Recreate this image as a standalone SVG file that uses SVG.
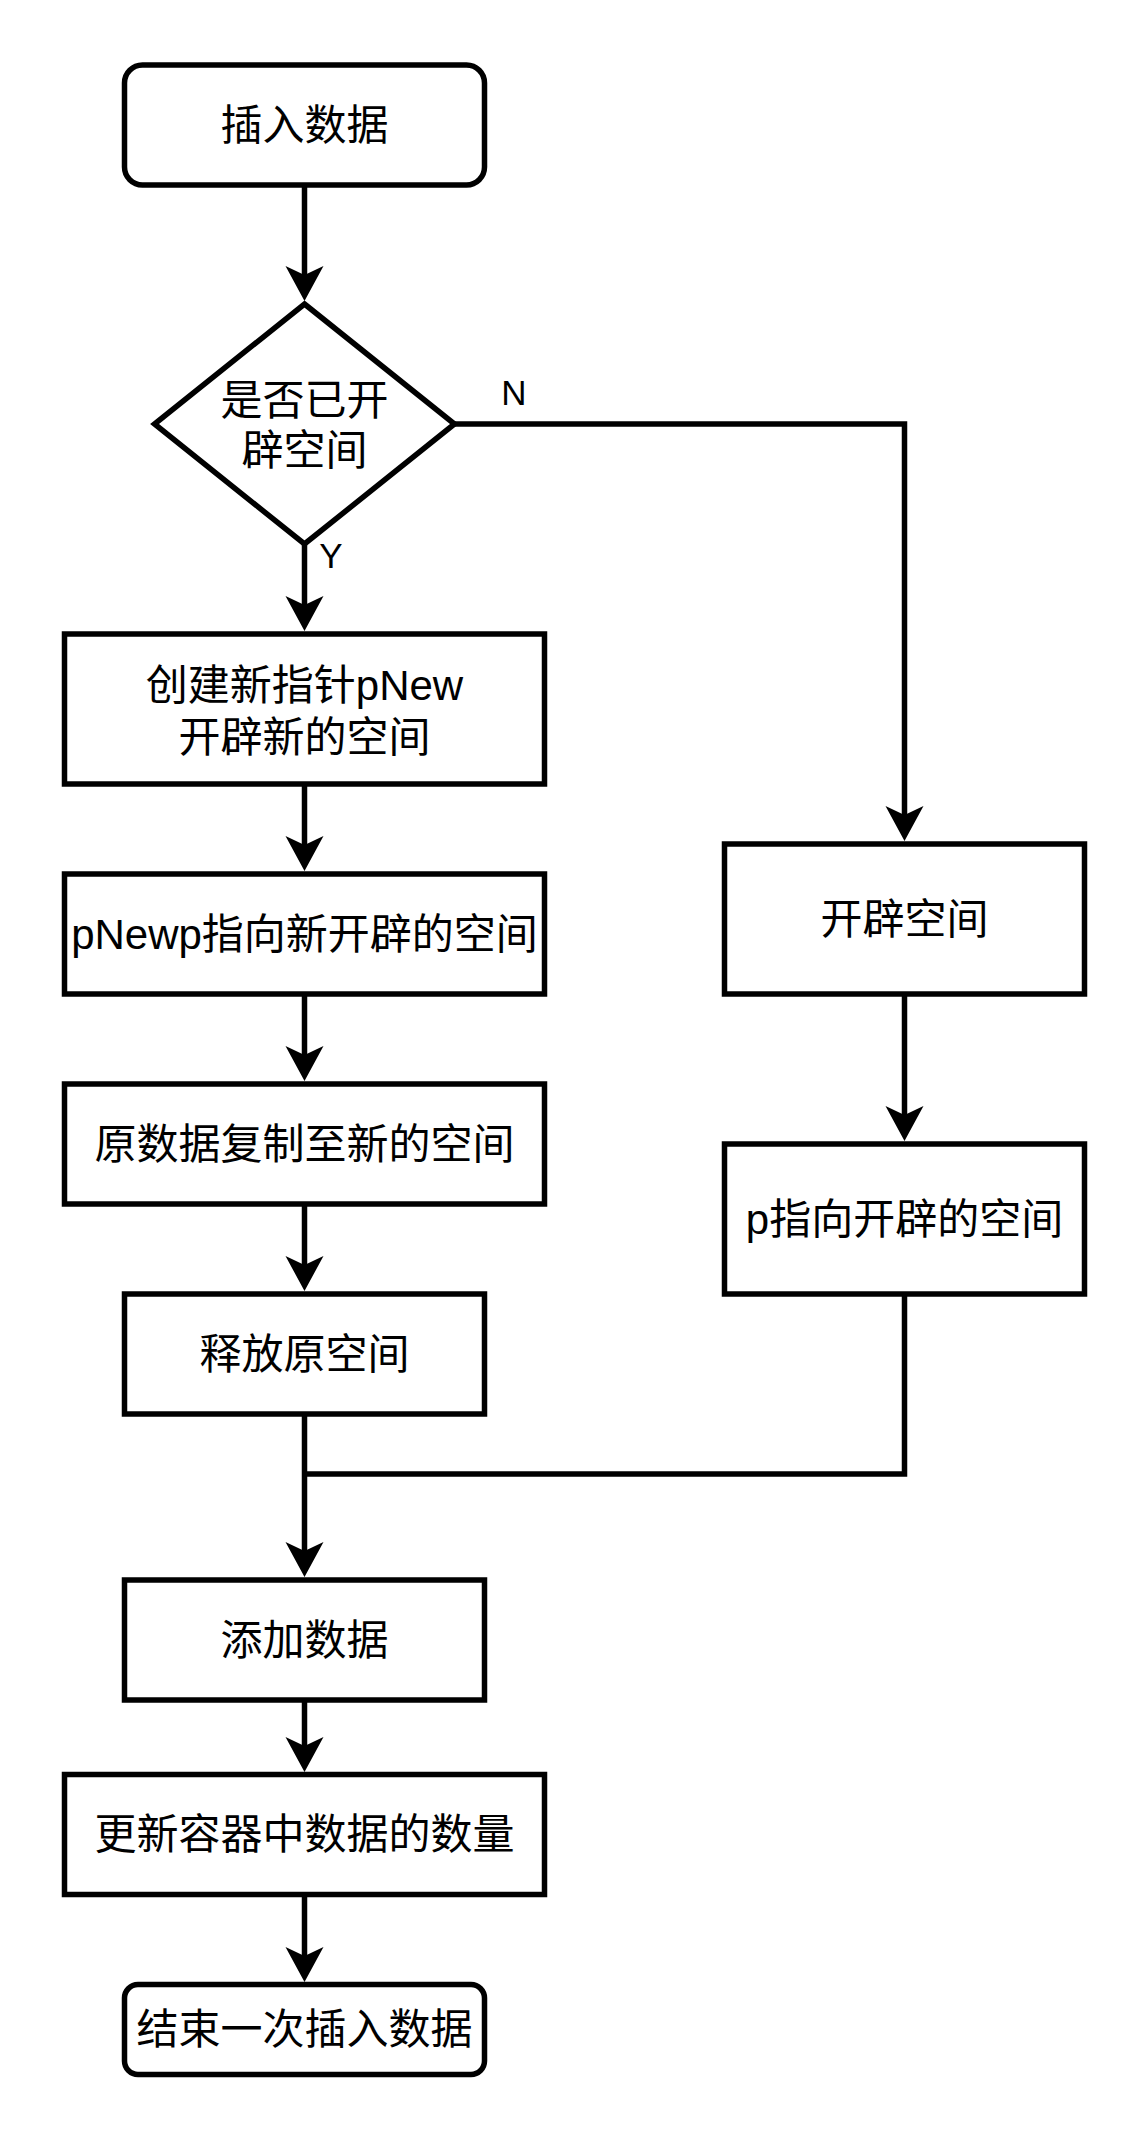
<svg xmlns="http://www.w3.org/2000/svg" width="1146" height="2136" viewBox="0 0 1146 2136">
<style>
.shape{fill:#ffffff;stroke:#000000;stroke-width:5.5;}
.edge{fill:none;stroke:#000000;stroke-width:5.5;}
.t{font-family:"Liberation Sans","Noto Sans CJK SC",sans-serif;font-size:42px;fill:#000000;text-anchor:middle;}
.lbl{font-family:"Liberation Sans","Noto Sans CJK SC",sans-serif;font-size:35px;fill:#000000;text-anchor:middle;}
</style>
<defs>
<marker id="arr" markerUnits="userSpaceOnUse" markerWidth="44" markerHeight="44" viewBox="-40 -22 44 44" refX="-26" refY="0" orient="auto">
<path d="M-35,-19 L0,0 L-35,19 L-26,0 Z" fill="#000000"/>
</marker>
</defs>
<rect width="1146" height="2136" fill="#ffffff"/>
<g id="connectors">
<path class="edge" d="M304.5,185 L304.5,275" marker-end="url(#arr)"/>
<path class="edge" d="M304.5,544 L304.5,605" marker-end="url(#arr)"/>
<path class="edge" d="M304.5,784 L304.5,845" marker-end="url(#arr)"/>
<path class="edge" d="M304.5,994 L304.5,1055" marker-end="url(#arr)"/>
<path class="edge" d="M304.5,1204 L304.5,1265" marker-end="url(#arr)"/>
<path class="edge" d="M304.5,1414 L304.5,1551" marker-end="url(#arr)"/>
<path class="edge" d="M304.5,1700 L304.5,1746" marker-end="url(#arr)"/>
<path class="edge" d="M304.5,1894 L304.5,1956" marker-end="url(#arr)"/>
<path class="edge" d="M454.5,424 L904.5,424 L904.5,815" marker-end="url(#arr)"/>
<path class="edge" d="M904.5,994 L904.5,1115" marker-end="url(#arr)"/>
<path class="edge" d="M904.5,1294 L904.5,1474 L304.5,1474"/>
<text class="lbl" x="514" y="405">N</text>
<text class="lbl" x="331" y="568">Y</text>
</g>
<g id="start">
<rect class="shape" x="124.5" y="65" width="360" height="120" rx="18" ry="18"/>
<text class="t" x="304.5" y="140">插入数据</text>
</g>
<g id="decision">
<polygon class="shape" points="304.5,304 454.5,424 304.5,544 154.5,424"/>
<text class="t" x="304.5" y="415">是否已开</text>
<text class="t" x="304.5" y="465">辟空间</text>
</g>
<g id="create">
<rect class="shape" x="64.5" y="634" width="480" height="150"/>
<text class="t" x="304.5" y="700">创建新指针pNew</text>
<text class="t" x="304.5" y="752">开辟新的空间</text>
</g>
<g id="point-new">
<rect class="shape" x="64.5" y="874" width="480" height="120"/>
<text class="t" x="304.5" y="949">pNewp指向新开辟的空间</text>
</g>
<g id="copy">
<rect class="shape" x="64.5" y="1084" width="480" height="120"/>
<text class="t" x="304.5" y="1159">原数据复制至新的空间</text>
</g>
<g id="free">
<rect class="shape" x="124.5" y="1294" width="360" height="120"/>
<text class="t" x="304.5" y="1369">释放原空间</text>
</g>
<g id="alloc">
<rect class="shape" x="724.5" y="844" width="360" height="150"/>
<text class="t" x="904.5" y="934">开辟空间</text>
</g>
<g id="point">
<rect class="shape" x="724.5" y="1144" width="360" height="150"/>
<text class="t" x="904.5" y="1234">p指向开辟的空间</text>
</g>
<g id="add">
<rect class="shape" x="124.5" y="1580" width="360" height="120"/>
<text class="t" x="304.5" y="1655">添加数据</text>
</g>
<g id="update">
<rect class="shape" x="64.5" y="1774.5" width="480" height="120"/>
<text class="t" x="304.5" y="1849">更新容器中数据的数量</text>
</g>
<g id="end">
<rect class="shape" x="124.5" y="1984.5" width="360" height="90" rx="13.5" ry="13.5"/>
<text class="t" x="304.5" y="2044">结束一次插入数据</text>
</g>
</svg>
